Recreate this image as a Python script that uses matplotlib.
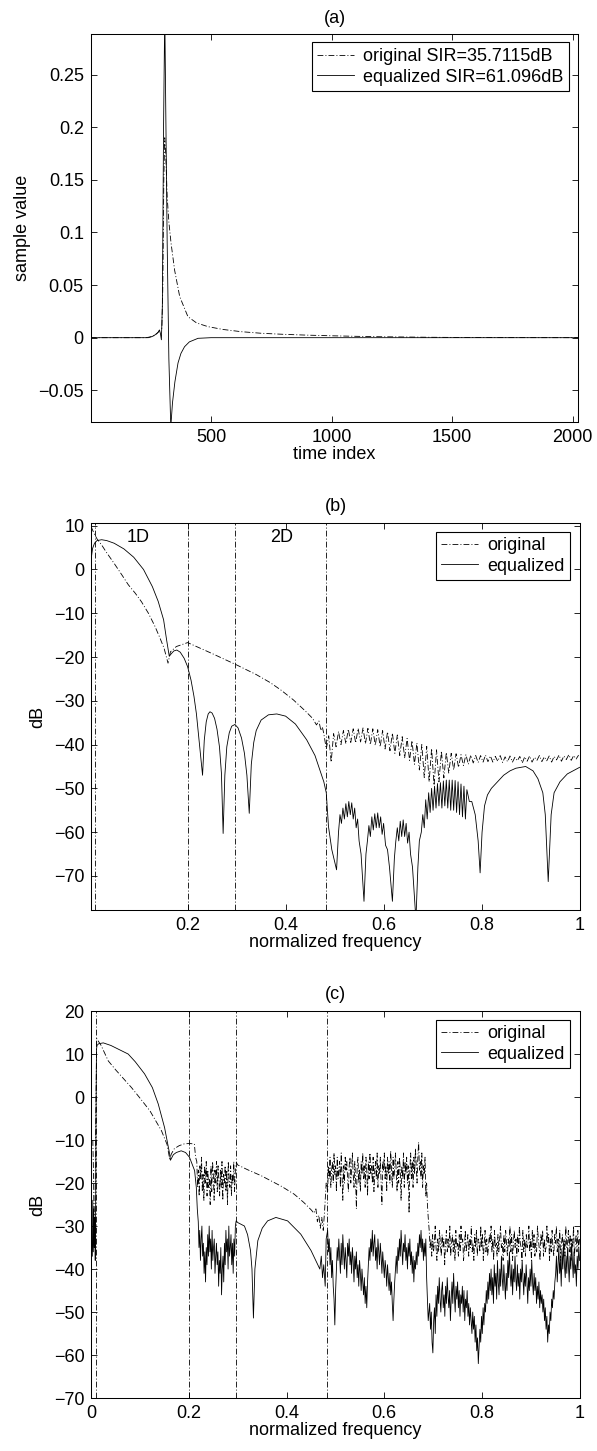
import numpy as np
import matplotlib.pyplot as plt
from matplotlib.ticker import FuncFormatter

plt.rcParams['font.family'] = ['Liberation Sans', 'DejaVu Sans']
plt.rcParams['font.size'] = 13

# ---------------- (a) impulse responses ----------------
a_idx_orig = [1, 240, 265, 280, 290, 296, 300, 304, 308, 312, 318, 325, 334, 349, 370,
              404, 440, 487, 550, 625, 708, 800, 900, 1000, 1100, 1200, 1400, 1600, 2024]
a_val_orig = [0, 0, 0.002, 0.005, 0.008, 0.009, 0.05, 0.15, 0.19, 0.175, 0.134, 0.11, 0.09,
              0.064, 0.039, 0.020, 0.014, 0.0105, 0.0078, 0.0057, 0.0042, 0.0032, 0.0024,
              0.0018, 0.0013, 0.0009, 0.0004, 0.0001, 0]
a_idx_eq = [1, 230, 255, 270, 280, 286, 290, 294, 298, 303, 308, 312, 318, 325, 333, 340,
            350, 363, 375, 390, 410, 446, 500, 2024]
a_val_eq = [0, 0, 0.001, 0.003, 0.005, 0.0073, 0.004, -0.002, 0.03, 0.2, 0.31, 0.22, 0.09,
            -0.02, -0.085, -0.062, -0.042, -0.024, -0.015, -0.0086, -0.004, -0.0006, 0, 0]

# ---------------- (b) spectra ----------------
b_orig_x = [0.003, 0.008, 0.015, 0.0245, 0.035, 0.05, 0.065, 0.079, 0.093, 0.106, 0.12,
            0.133, 0.143, 0.152, 0.16, 0.165, 0.177, 0.2, 0.25, 0.3, 0.34, 0.368, 0.39,
            0.416, 0.44, 0.455, 0.463, 0.468, 0.472, 0.475]
b_orig_y = [9.8, 8.5, 7.0, 5.6, 3.8, 1.4, -1.1, -3.5, -5.4, -7.4, -10.0, -12.9, -15.5,
            -18.0, -21.4, -18.8, -17.6, -16.7, -19.2, -21.8, -24.0, -25.8, -27.5, -29.8,
            -32.3, -34.0, -35.5, -34.6, -36.8, -36.0]
# dense ripple of the original, 0.478 .. 0.998
b_orig_ripple = [-37.5, -41, -38, -44, -37.5, -40.5, -37, -40, -36.8, -39.8, -36.5, -39.5,
                 -36.4, -39.6, -36.3, -39.4, -36.2, -39.8, -36.3, -40, -36.4, -40.2, -36.6,
                 -40.5, -36.8, -41, -37.1, -41.4, -37.4, -42, -37.8, -42.5, -38.2, -43,
                 -38.6, -43.6, -39.1, -44.5, -39.6, -45.8, -40, -47.5, -40.4, -48.5, -40.9,
                 -49.3, -41.2, -48.5, -41.5, -47.6, -41.8, -46.5, -42, -45.8, -42.1, -45.2,
                 -42.3, -44.8, -42.3, -44.5, -42.4, -44.2, -42.5, -44.1, -42.5, -44, -42.4,
                 -43.9, -42.6, -44, -42.7, -43.8, -42.5, -44.1, -42.8, -43.9, -42.6, -44,
                 -42.9, -43.7, -42.7, -44.2, -42.8, -43.8, -42.6, -44, -42.9, -43.6, -42.5,
                 -43.9, -42.8, -43.7, -42.6, -44, -42.7, -43.5, -42.4, -43.8, -42.6, -43.4,
                 -42.3, -43.6, -42.5, -43.3, -42.4]

b_eq_x = [0.003, 0.006, 0.01, 0.015, 0.0245, 0.035, 0.05, 0.07, 0.09, 0.11, 0.128, 0.14,
          0.151, 0.157, 0.1625, 0.167, 0.172, 0.178, 0.185, 0.193, 0.2, 0.207, 0.213, 0.218,
          0.222, 0.226, 0.2305, 0.234, 0.238, 0.242, 0.2456, 0.25, 0.255, 0.26, 0.265,
          0.269, 0.2725, 0.276, 0.28, 0.285, 0.29, 0.2966, 0.303, 0.31, 0.316, 0.321,
          0.3258, 0.33, 0.335, 0.34, 0.35, 0.365, 0.382, 0.4, 0.42, 0.443, 0.46, 0.47,
          0.478, 0.483, 0.4875, 0.4943, 0.504,
          0.508, 0.511, 0.514, 0.517, 0.52, 0.523, 0.526, 0.529, 0.532, 0.535, 0.538, 0.541,
          0.544, 0.547, 0.55, 0.554, 0.56, 0.564, 0.567, 0.57, 0.573, 0.576, 0.579, 0.582,
          0.585, 0.588, 0.591, 0.594, 0.597, 0.6, 0.604, 0.608, 0.612, 0.618, 0.622, 0.625,
          0.628, 0.631, 0.634, 0.637, 0.64, 0.643, 0.646, 0.649, 0.652, 0.655, 0.659, 0.666,
          0.67, 0.673, 0.677, 0.68, 0.683, 0.686, 0.689, 0.692, 0.695, 0.698, 0.701, 0.704,
          0.707, 0.71, 0.713, 0.716, 0.719, 0.722, 0.725, 0.728, 0.731, 0.734, 0.737, 0.74,
          0.743, 0.746, 0.749, 0.752, 0.755, 0.758, 0.761, 0.764, 0.767, 0.77, 0.775, 0.78,
          0.787, 0.793, 0.797, 0.801, 0.806, 0.812, 0.82, 0.83, 0.845, 0.858, 0.87, 0.89,
          0.905, 0.915, 0.925, 0.93, 0.936, 0.942, 0.948, 0.96, 0.975, 1.0]
b_eq_y = [2.3, 4.8, 6.0, 6.6, 6.8, 6.6, 6.0, 4.7, 2.8, 0.0, -3.9, -7.3, -11.5, -16.0,
          -19.8, -19.2, -18.6, -18.4, -18.9, -20.3, -22.2, -25.3, -29.0, -33.0, -37.5,
          -42.0, -47.0, -39.0, -34.8, -33.0, -32.5, -32.8, -34.0, -36.5, -40.5, -46.5,
          -60.3, -47.0, -40.5, -37.3, -35.8, -35.4, -36.2, -38.5, -42.0, -47.0, -55.7,
          -44.5, -39.5, -36.8, -34.4, -33.2, -33.0, -33.5, -35.3, -38.9, -42.5, -45.8,
          -48.5, -51.0, -58.7, -64.0, -68.6,
          -60, -56, -58, -54.5, -57, -53.5, -56.5, -53, -56, -53.3, -57, -54.5,
          -59, -57, -62, -65, -75.8, -65, -62, -58.5, -61, -56.5, -59.5, -55.8,
          -59, -55.6, -59, -56.5, -60.5, -58, -63, -64, -68, -75.8, -66, -62,
          -59, -62, -57.5, -61, -57.2, -61, -58, -62.5, -60, -65, -68, -80,
          -68, -62, -60, -56, -59, -52.6, -57, -51, -55.5, -50, -55, -49.5,
          -54.5, -48.9, -54, -48.7, -54.5, -48.3, -54, -48.1, -54.5, -48.1, -55, -48.1,
          -55, -48.2, -55.5, -48.5, -56, -49, -56.5, -49.5, -57, -50.3, -53, -53,
          -56, -62, -69.3, -60, -54, -51.5, -50, -48.8, -47, -46, -45.4, -45.0,
          -46, -47.8, -51, -56, -71.3, -56, -51, -48.5, -46.7, -45.2]

# ---------------- (c) spectra ----------------
c_orig_x1 = [0.003, 0.0045, 0.006, 0.0075, 0.009, 0.011, 0.02, 0.0347, 0.05, 0.0823, 0.1,
             0.12, 0.1435, 0.155, 0.1605, 0.164, 0.17, 0.18, 0.19, 0.2, 0.211, 0.2135]
c_orig_y1 = [-10, -18, -35, -28, -5, 13.6, 12.0, 8.4, 6.3, 2.2, -0.3, -3.2, -7.8, -11.0,
             -14.4, -13.2, -12.0, -11.3, -10.9, -10.8, -10.9, -14]
c_orig_noise1 = [-15, -21, -17, -23, -16, -19, -14, -22, -18, -24, -16, -20, -15, -23, -17,
                 -21, -19, -25, -16, -22, -15, -18, -24, -17, -20, -15, -22, -16, -19, -23,
                 -17, -21, -15, -24, -18, -20, -16, -22, -17, -25, -15, -19, -21, -16, -23,
                 -18, -20, -15, -22, -17]
c_orig_x2 = [0.297, 0.3, 0.32, 0.348, 0.37, 0.39, 0.4156, 0.435, 0.45, 0.456, 0.46, 0.463,
             0.466, 0.469, 0.472, 0.475, 0.478, 0.481]
c_orig_y2 = [-15.2, -15.8, -16.9, -18.3, -19.6, -20.8, -22.6, -24.5, -26.2, -27.0, -26.0,
             -29.0, -27.5, -30.5, -28.0, -31.0, -26.0, -20.0]
c_orig_noise2 = [-22, -16, -19, -14, -21, -17, -15, -20, -13, -18, -16, -22, -14, -19, -17,
                 -15, -21, -13, -18, -24, -16, -20, -14, -17, -15, -19, -22, -16, -14, -20,
                 -17, -13, -18, -21, -15, -19, -26, -16, -14, -20, -17, -22, -15, -18, -13,
                 -19, -16, -21, -14, -17, -23, -15, -19, -13, -18, -16, -20, -14, -22, -17,
                 -15, -19, -13, -21, -16, -18, -14, -20, -25, -15, -17, -13, -19, -16, -22,
                 -14, -18, -15, -20, -12.5, -17, -21, -14, -19, -16, -13, -18, -22, -15, -20,
                 -14, -17, -24, -16, -19, -13, -21, -15, -18, -14, -20, -16, -27, -17, -13,
                 -19, -15, -21, -14, -18, -12, -16, -20, -14, -10.5, -17, -15, -19, -13, -21,
                 -16, -18, -14, -23, -20, -25, -28]
c_orig_noise3 = [-31, -35, -33, -37, -32, -36, -34, -30, -35, -38, -33, -36, -31, -34, -37,
                 -32, -35, -33, -39, -34, -31, -36, -33, -35, -30, -37, -34, -32, -36, -33,
                 -38, -31, -35, -34, -37, -32, -36, -30, -34, -33, -38, -35, -31, -36, -34,
                 -32, -37, -33, -35, -30, -36, -34, -38, -32, -35, -31, -37, -33, -34, -36,
                 -30, -35, -32, -38, -34, -31, -36, -33, -37, -35, -32, -34, -30, -36, -33,
                 -38, -31, -35, -34, -37, -32, -36, -33, -30, -35, -34, -38, -32, -36, -31,
                 -34, -37, -33, -35, -30, -36, -32, -38, -34, -31, -35, -33, -37, -32, -36,
                 -30, -34, -35, -38, -31, -36, -33, -37, -32, -35, -34, -30, -36, -33, -38,
                 -31, -35, -32, -37, -34, -36, -30, -33, -35, -38, -32, -34, -31, -37, -33,
                 -36, -35, -30, -34, -32, -38, -33, -36, -31, -35, -37, -32, -34, -30, -36,
                 -33, -35, -31, -38, -34, -32, -36, -33, -37, -30, -35, -34, -31, -36, -32,
                 -38, -33, -35, -30, -37, -34, -32, -36, -31, -35, -33]

c_eq_x1 = [0.002, 0.003, 0.004, 0.005, 0.006, 0.007, 0.008, 0.009, 0.0095, 0.0105, 0.0115,
           0.015, 0.0245, 0.04, 0.0755, 0.09, 0.109, 0.125, 0.137, 0.15, 0.1605, 0.162,
           0.168, 0.174, 0.184, 0.193, 0.201, 0.2115, 0.215, 0.217]
c_eq_y1 = [-37, -24, -36, -26, -35, -28, -38, -22, -5, 11.0, 12.0, 12.4, 12.6, 12.0, 10.0,
           8.2, 5.4, 2.2, -1.6, -7.1, -13.3, -14.7, -13.4, -12.9, -12.5, -12.9, -14, -17.1,
           -21, -26]
c_eq_noise1 = [-29, -35, -31, -38, -33, -30, -37, -34, -41, -36, -43, -35, -39, -32, -37,
               -30, -36, -33, -40, -31, -38, -35, -33, -41, -37, -34, -39, -36, -44, -38,
               -41, -35, -46, -40, -37, -43, -34, -39, -31, -36, -33, -40, -30, -37, -35,
               -32, -39, -34, -41, -33, -37, -30]
c_eq_x2 = [0.2966, 0.3, 0.3136, 0.32, 0.326, 0.329, 0.332, 0.335, 0.341, 0.35, 0.361, 0.378,
           0.402, 0.429, 0.45, 0.463, 0.468, 0.471, 0.4735, 0.476, 0.479, 0.481]
c_eq_y2 = [-28.8, -29.2, -30.0, -32, -35.7, -40, -51.4, -40, -33.4, -30.5, -28.8, -28.0,
           -28.8, -31.9, -35.7, -38.8, -40, -37, -42, -39, -44, -33]
c_eq_noise2 = [-31, -36, -33, -39, -35, -42, -38, -44, -47, -53, -45,
               -40, -35, -38, -33, -37, -41, -34, -39, -32, -36, -40, -35, -38, -42, -34,
               -37, -33, -39, -36, -41, -35, -38, -43, -37, -40, -36, -42, -39, -44, -38,
               -41, -45, -40, -43, -46,
               -42, -48, -44, -49, -43,
               -39, -35, -38, -33, -36, -31, -37, -34, -32, -38, -35, -40, -33, -36, -39,
               -34, -37, -41, -36, -39, -42, -38, -40, -44, -39, -42, -45, -41,
               -46, -43, -48, -52, -47, -43,
               -40, -37, -41, -35, -38, -33, -37, -31, -35, -39, -34, -36, -32, -38, -35,
               -40, -34, -37, -33, -39, -36, -41, -37, -43, -38, -40, -36, -39, -34, -37,
               -32, -35, -31, -36, -33, -38, -34,
               -37, -33, -42, -47, -52]
c_eq_noise3 = [-48, -54, -50, -57, -59.5, -52, -49, -55, -46, -51,
               -44, -48, -42, -47, -50, -45, -43, -49, -46, -51, -44, -48, -42, -46, -49,
               -45, -52, -47, -43, -48, -41, -46, -50, -44, -47, -43, -49, -45, -51, -46,
               -48, -44, -50, -45, -52, -47, -49, -45, -51, -48, -53, -49, -52,
               -55, -50, -54, -51, -57, -53, -59, -56, -62, -58, -54, -57, -51, -55, -49,
               -53, -48, -50,
               -45, -48, -43, -47, -41, -45, -40, -46, -42, -48, -39, -44, -41, -47, -38,
               -43, -46, -40, -44, -37, -42, -45, -39, -43, -47, -41, -45, -38, -42, -36,
               -41, -44, -39, -46, -40, -43, -37, -42, -45, -39, -44, -41, -47, -40, -43,
               -38, -42, -46, -41, -44, -39, -43, -48, -42, -45, -40, -44, -38, -43, -46,
               -41, -45, -42, -48, -44, -47, -43, -49, -45, -48, -46,
               -50, -47, -52, -49, -54, -51, -57, -53, -55, -50, -52, -47, -49, -45, -47,
               -43,
               -41, -37, -43, -39, -35, -41, -38, -44, -36, -40, -34, -39, -42, -37, -41,
               -35, -39, -43, -37, -40, -34, -38, -42, -36, -41, -39, -44, -37, -40, -35,
               -38]

band_edges = [0.01, 0.2, 0.297, 0.483]

DASHDOT = (0, (7, 2.5, 1.2, 2.5))
LW = 0.6


def build(pieces):
    xs, ys = [], []
    for p in pieces:
        if len(p) == 2:
            xs.append(np.asarray(p[0], float))
            ys.append(np.asarray(p[1], float))
        else:
            x0, x1, vals = p
            xs.append(np.linspace(x0, x1, len(vals)))
            ys.append(np.asarray(vals, float))
    return np.concatenate(xs), np.concatenate(ys)


def fmt(v, pos):
    s = '%g' % v
    return s.replace('-', '\u2212')


def style(ax):
    ax.tick_params(direction='in', top=True, right=True, length=4, width=0.6, pad=5)
    for sp in ax.spines.values():
        sp.set_linewidth(0.75)
    ax.xaxis.set_major_formatter(FuncFormatter(fmt))
    ax.yaxis.set_major_formatter(FuncFormatter(fmt))


def add_legend(ax, labels):
    leg = ax.legend(labels, loc='upper right', bbox_to_anchor=(0.981, 0.978),
                    borderaxespad=0, fancybox=False, edgecolor='black', framealpha=1,
                    handlelength=2.0, handletextpad=0.55, borderpad=0.3,
                    labelspacing=0.2)
    leg.get_frame().set_linewidth(0.8)


fig = plt.figure(figsize=(5.97, 14.51), dpi=100)

# (a)
ax = fig.add_axes([0.152, 0.7092, 0.817, 0.2674])
ax.plot(a_idx_orig, a_val_orig, color='black', lw=LW, linestyle=DASHDOT)
ax.plot(a_idx_eq, a_val_eq, color='black', lw=LW)
ax.set_xlim(1, 2024)
ax.set_ylim(-0.0801, 0.2887)
ax.set_xticks([500, 1000, 1500, 2000])
ax.set_yticks([-0.05, 0, 0.05, 0.1, 0.15, 0.2, 0.25])
style(ax)
ax.set_xlabel('time index', labelpad=0)
ax.set_ylabel('sample value', labelpad=5)
ax.set_title('(a)', pad=8, fontsize=13)
add_legend(ax, ['original SIR=35.7115dB', 'equalized SIR=61.096dB'])

# (b)
ax = fig.add_axes([0.153, 0.3728, 0.8178, 0.2667])
bx_o, by_o = build([(b_orig_x, b_orig_y), (0.478, 0.998, b_orig_ripple)])
ax.plot(bx_o, by_o, color='black', lw=LW, linestyle=DASHDOT)
ax.plot(b_eq_x, b_eq_y, color='black', lw=LW)
for e in band_edges:
    ax.axvline(e, color='black', lw=0.6, linestyle=DASHDOT)
ax.text(0.1, 7.35, '1D', ha='center', va='center')
ax.text(0.392, 7.35, '2D', ha='center', va='center')
ax.set_xlim(0.0035, 1)
ax.set_ylim(-77.8, 10.6)
ax.set_xticks([0.2, 0.4, 0.6, 0.8, 1])
ax.set_yticks(range(-70, 11, 10))
style(ax)
ax.set_xlabel('normalized frequency', labelpad=0)
ax.set_ylabel('dB', labelpad=5)
ax.set_title('(b)', pad=8.5, fontsize=13)
add_legend(ax, ['original', 'equalized'])

# (c)
ax = fig.add_axes([0.153, 0.0365, 0.8178, 0.2667])
cx_o, cy_o = build([(c_orig_x1, c_orig_y1), (0.216, 0.295, c_orig_noise1),
                    (c_orig_x2, c_orig_y2), (0.484, 0.690, c_orig_noise2),
                    (0.692, 1.0, c_orig_noise3)])
cx_e, cy_e = build([(c_eq_x1, c_eq_y1), (0.219, 0.295, c_eq_noise1),
                    (c_eq_x2, c_eq_y2), (0.484, 0.690, c_eq_noise2),
                    (0.693, 1.0, c_eq_noise3)])
ax.plot(cx_o, cy_o, color='black', lw=LW, linestyle=DASHDOT)
ax.plot(cx_e, cy_e, color='black', lw=LW)
for e in band_edges:
    ax.axvline(e, color='black', lw=0.6, linestyle=DASHDOT)
ax.set_xlim(0, 1)
ax.set_ylim(-70, 20)
ax.set_xticks([0, 0.2, 0.4, 0.6, 0.8, 1])
ax.set_yticks(range(-70, 21, 10))
style(ax)
ax.set_xlabel('normalized frequency', labelpad=0)
ax.set_ylabel('dB', labelpad=5)
ax.set_title('(c)', pad=8.5, fontsize=13)
add_legend(ax, ['original', 'equalized'])

fig.savefig('out.png', dpi=100)
